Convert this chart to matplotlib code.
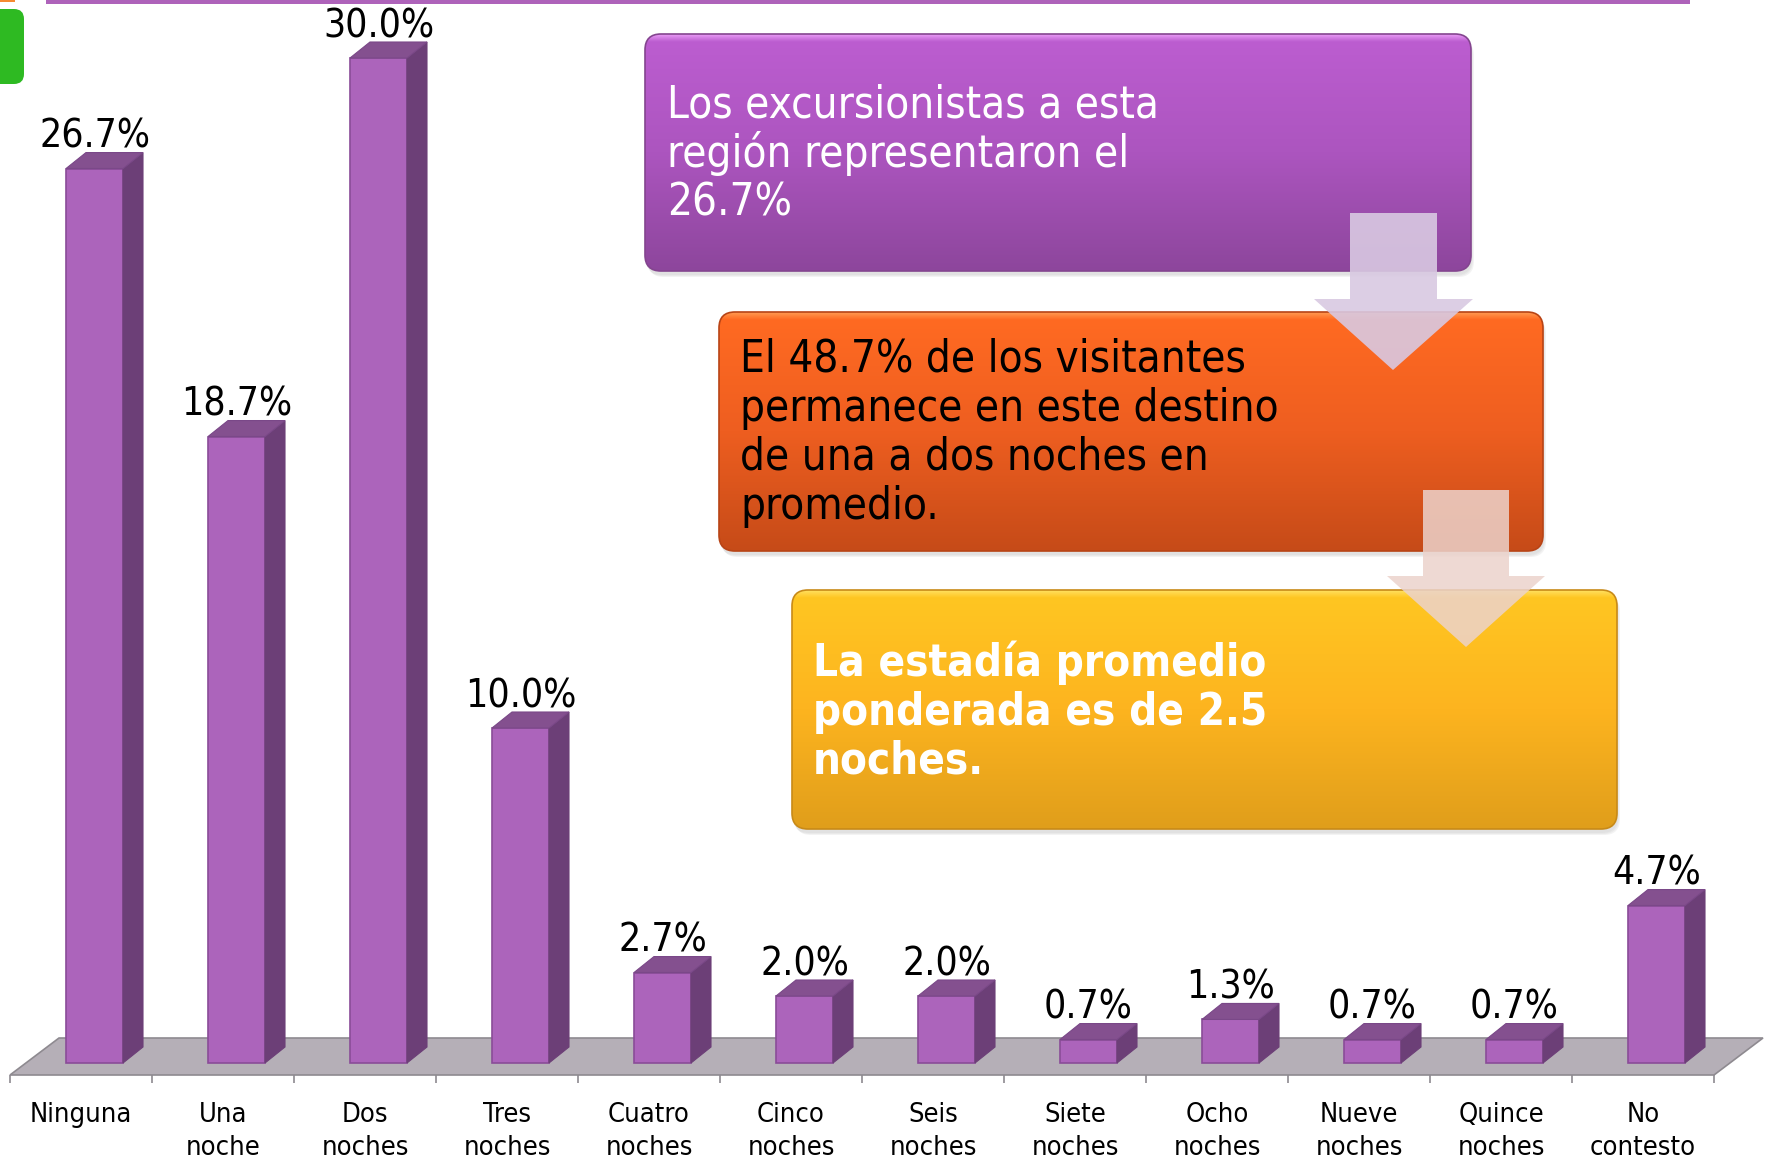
import matplotlib
matplotlib.use("Agg")
import matplotlib.pyplot as plt
import numpy as np
from matplotlib.patches import Polygon, FancyBboxPatch, Rectangle
from matplotlib.colors import LinearSegmentedColormap

# ---------------- data ----------------
categories = ["Ninguna", "Una\nnoche", "Dos\nnoches", "Tres\nnoches", "Cuatro\nnoches",
              "Cinco\nnoches", "Seis\nnoches", "Siete\nnoches", "Ocho\nnoches",
              "Nueve\nnoches", "Quince\nnoches", "No\ncontesto"]
values = [26.7, 18.7, 30.0, 10.0, 2.7, 2.0, 2.0, 0.7, 1.3, 0.7, 0.7, 4.7]
value_labels = ["26.7%", "18.7%", "30.0%", "10.0%", "2.7%", "2.0%", "2.0%",
                "0.7%", "1.3%", "0.7%", "0.7%", "4.7%"]

box1_lines = ["Los excursionistas a esta", "región representaron el", "26.7%"]
box2_lines = ["El 48.7% de los visitantes", "permanece en este destino",
              "de una a dos noches en", "promedio."]
box3_lines = ["La estadía promedio", "ponderada es de 2.5", "noches."]

# ---------------- figure ----------------
W, H = 1766, 1161
fig = plt.figure(figsize=(W / 100, H / 100), dpi=100)
fig.patch.set_facecolor("white")

FONT = dict(family="DejaVu Sans", stretch="condensed")

# pixel calibration of the chart
x0px, xstep = 81.0, 142.0      # category centre / spacing
y0px, ystep = 1063.0, 33.5     # value 0 baseline / pixels per percent
px_x = 1.0 / xstep
px_y = 1.0 / ystep

ax = fig.add_axes([0, 0, 1, 1])
ax.set_xlim(-x0px / xstep, (W - x0px) / xstep)
ax.set_ylim((y0px - H) / ystep, y0px / ystep)
ax.axis("off")

n = len(values)
xs = np.arange(n)

# floor
floor_front = -12 * px_y
floor_back = 25 * px_y
floor_dx = 49 * px_x
floor = Polygon([(-0.5, floor_front), (n - 0.5, floor_front),
                 (n - 0.5 + floor_dx, floor_back), (-0.5 + floor_dx, floor_back)],
                closed=True, facecolor="#B5AFB7", edgecolor="#8E8A90", lw=1.2, zorder=1)
ax.add_patch(floor)

# ticks
ax.vlines(np.arange(n + 1) - 0.5, floor_front - 8 * px_y, floor_front,
          colors="#8E8A90", lw=1.2, zorder=1)

# bars (3D look)
off = -15 * px_x
bw = 57 * px_x
ddx = 20 * px_x
ddy = 16 * px_y
front_c, side_c, top_c, edge_c = "#AC64BB", "#6C3F77", "#84508F", "#8A4C98"

ax.bar(xs + off + bw / 2, values, width=bw, color=front_c, edgecolor=edge_c,
       lw=1.2, zorder=3)
for i, v in zip(xs, values):
    xl = i + off
    xr = xl + bw
    side = Polygon([(xr, 0), (xr + ddx, ddy), (xr + ddx, v + ddy), (xr, v)],
                   closed=True, facecolor=side_c, edgecolor=side_c, lw=0.8, zorder=3)
    top = Polygon([(xl, v), (xl + ddx, v + ddy), (xr + ddx, v + ddy), (xr, v)],
                  closed=True, facecolor=top_c, edgecolor="#7A4888", lw=0.8, zorder=3)
    ax.add_patch(side)
    ax.add_patch(top)

# value labels
for i, v, lab in zip(xs, values, value_labels):
    ax.text(i + off + bw / 2, v + 21 * px_y, lab, ha="center", va="baseline",
            fontsize=28, color="black", zorder=5, **FONT)

# category labels
for i, lab in zip(xs, categories):
    lines = lab.split("\n")
    for k, ln in enumerate(lines):
        ypx = 1122 + 33 * k
        ax.text(i, (y0px - ypx) / ystep, ln, ha="center", va="baseline",
                fontsize=19.5, color="black", zorder=5, **FONT)

# ---------------- overlay (annotation boxes) ----------------
ov = fig.add_axes([0, 0, 1, 1], zorder=10)
ov.set_xlim(0, W)
ov.set_ylim(H, 0)
ov.axis("off")

# decorations at top
ov.add_patch(Rectangle((46, 0), 1644, 4, facecolor="#AE63BA", edgecolor="none"))
ov.add_patch(FancyBboxPatch((-20, 9), 44, 75, boxstyle="round,pad=0,rounding_size=10",
                            facecolor="#2EBA22", edgecolor="none"))
ov.add_patch(Rectangle((0, 0), 15, 2, facecolor="#F58A30", edgecolor="none"))


def grad_box(x0, y0, x1, y1, stops, edge):
    # soft shadow (below the box)
    for k, a in enumerate([0.05, 0.06, 0.07]):
        sh = FancyBboxPatch((x0 + 1 + k, y0 + 4 + k), x1 - x0, y1 - y0,
                            boxstyle="round,pad=0,rounding_size=16",
                            facecolor="#555555", edgecolor="none", alpha=a, zorder=1)
        ov.add_patch(sh)
    patch = FancyBboxPatch((x0, y0), x1 - x0, y1 - y0,
                           boxstyle="round,pad=0,rounding_size=16",
                           facecolor="none", edgecolor="none", zorder=2)
    ov.add_patch(patch)
    cmap = LinearSegmentedColormap.from_list("g", stops)
    grad = np.linspace(0, 1, 256).reshape(-1, 1)
    im = ov.imshow(grad, cmap=cmap, extent=(x0, x1, y1, y0), aspect="auto",
                   interpolation="bilinear", origin="upper", zorder=2)
    im.set_clip_path(patch)
    ov.add_patch(FancyBboxPatch((x0, y0), x1 - x0, y1 - y0,
                                boxstyle="round,pad=0,rounding_size=16",
                                facecolor="none", edgecolor=edge, lw=1.2, zorder=3))


grad_box(645, 34, 1471, 271,
         [(0.0, "#E89AF5"), (0.03, "#BC5DD0"), (0.5, "#AC55BF"), (1.0, "#8D469C")],
         "#84458F")
grad_box(719, 312, 1543, 551,
         [(0.0, "#FF9A50"), (0.03, "#FF6A22"), (0.5, "#EE5E20"), (1.0, "#C64B18")],
         "#B84416")
grad_box(792, 590, 1617, 829,
         [(0.0, "#FFE060"), (0.03, "#FFC622"), (0.5, "#FDB41F"), (1.0, "#E09E1B")],
         "#C88A18")

for k, ln in enumerate(box1_lines):
    ov.text(667, 117 + 49.5 * k, ln, ha="left", va="baseline", fontsize=31.5,
            color="white", zorder=5, **FONT)
for k, ln in enumerate(box2_lines):
    ov.text(740, 372 + 49 * k, ln, ha="left", va="baseline", fontsize=31.5,
            color="black", zorder=5, **FONT)
for k, ln in enumerate(box3_lines):
    ov.text(813, 676 + 49 * k, ln, ha="left", va="baseline", fontsize=31.5,
            color="white", fontweight="bold", zorder=5, **FONT)


def block_arrow(sx0, sx1, sy0, hy, hx0, hx1, tipx, tipy, color, alpha):
    pts = [(sx0, sy0), (sx1, sy0), (sx1, hy), (hx1, hy), (tipx, tipy),
           (hx0, hy), (sx0, hy)]
    ov.add_patch(Polygon(pts, closed=True, facecolor=color, edgecolor="none",
                         alpha=alpha, zorder=20))


block_arrow(1350, 1437, 213, 299, 1314, 1473, 1393, 370, "#D9C9E2", 0.9)
block_arrow(1423, 1509, 490, 576, 1387, 1545, 1466, 647, "#ECD3CC", 0.85)

fig.savefig("out.png", dpi=100, facecolor="white")
